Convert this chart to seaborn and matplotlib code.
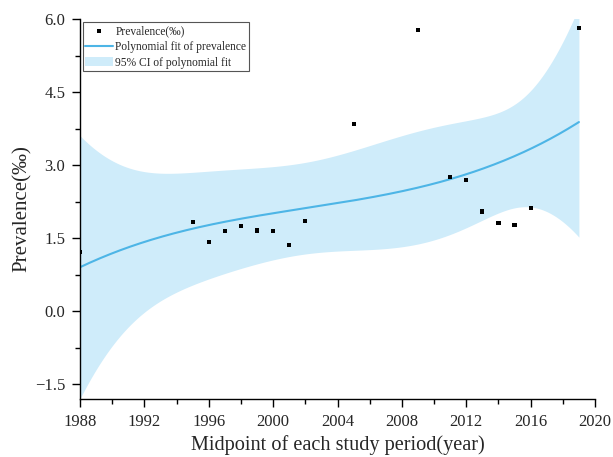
import matplotlib
matplotlib.use("Agg")
from matplotlib import pyplot as plt
from matplotlib.ticker import MultipleLocator, FuncFormatter
import seaborn as sns
import numpy as np
import pandas as pd

# Midpoint of each study period and reported prevalence (per mille)
years = [1988, 1995, 1996, 1997, 1998, 1999, 2000, 2001, 2002,
         2005, 2009, 2011, 2012, 2013, 2014, 2015, 2016, 2019]
prevalence = [1.21, 1.84, 1.42, 1.64, 1.75, 1.66, 1.64, 1.36, 1.85,
              3.84, 5.77, 2.75, 2.69, 2.05, 1.81, 1.77, 2.12, 5.81]

x_ticks = [1988, 1992, 1996, 2000, 2004, 2008, 2012, 2016, 2020]
y_ticks = [-1.5, 0.0, 1.5, 3.0, 4.5, 6.0]

df = pd.DataFrame({'year': years, 'prev': prevalence})

# Cubic polynomial fit with 95% confidence band of the mean
deg = 3
x = np.array(years, dtype=float)
y = np.array(prevalence)
X = np.vander(x - x.mean(), deg + 1)
beta, *_ = np.linalg.lstsq(X, y, rcond=None)
resid = y - X @ beta
dof = len(x) - (deg + 1)
s2 = resid @ resid / dof
cov = s2 * np.linalg.inv(X.T @ X)
t_crit = 2.145  # t(0.975, 14)

xg = np.linspace(min(years), max(years), 400)
Xg = np.vander(xg - x.mean(), deg + 1)
yg = Xg @ beta
se = np.sqrt(np.einsum('ij,jk,ik->i', Xg, cov, Xg))
fit = pd.DataFrame({'year': xg, 'fit': yg, 'lo': yg - t_crit * se, 'hi': yg + t_crit * se})

sns.set_style("ticks")
plt.rcParams['font.family'] = ['Liberation Serif', 'DejaVu Serif']

fig = plt.figure(figsize=(6.13, 4.57), dpi=100)
ax = fig.add_axes([80 / 613, 1 - 399 / 457, 515 / 613, 380 / 457])

ax.fill_between(fit.year, fit.lo, fit.hi, color='#cfecfa', lw=0,
                label='95% CI of polynomial fit')
sns.lineplot(data=fit, x='year', y='fit', color='#4db5e6', lw=1.5, ax=ax,
             label='Polynomial fit of prevalence')
sns.scatterplot(data=df, x='year', y='prev', marker='s', s=9, color='black',
                edgecolor='none', ax=ax, label='Prevalence(‰)', zorder=5)

ax.set_xlim(1988, 2020)
ax.set_ylim(-1.8, 6.0)
ax.set_xticks(x_ticks)
ax.set_yticks(y_ticks)
ax.xaxis.set_minor_locator(MultipleLocator(2))
ax.yaxis.set_minor_locator(MultipleLocator(0.75))
ax.yaxis.set_major_formatter(FuncFormatter(lambda v, p: f'{v:.1f}'.replace('-', '\u2212')))
ax.tick_params(which='major', length=6, width=1, labelsize=12, color='black', pad=4.5)
ax.tick_params(which='minor', length=3.5, width=1, color='black')
for side in ['top', 'right']:
    ax.spines[side].set_visible(False)
for side in ['left', 'bottom']:
    ax.spines[side].set_color('black')
    ax.spines[side].set_linewidth(1)

ax.set_xlabel('Midpoint of each study period(year)', fontsize=14.6, labelpad=4)
ax.set_ylabel('Prevalence(‰)', fontsize=15, labelpad=2)

h, l = ax.get_legend_handles_labels()
order = [l.index('Prevalence(‰)'), l.index('Polynomial fit of prevalence'),
         l.index('95% CI of polynomial fit')]
leg = ax.legend([h[i] for i in order], [l[i] for i in order], loc='upper left',
                bbox_to_anchor=(0.005, 0.992), fontsize=8.3, fancybox=False,
                edgecolor='#555555', framealpha=1, borderpad=0.25,
                handlelength=2.4, handletextpad=0.2, labelspacing=0.33,
                borderaxespad=0)
leg.get_frame().set_linewidth(0.8)

fig.savefig('out.png', dpi=100)
